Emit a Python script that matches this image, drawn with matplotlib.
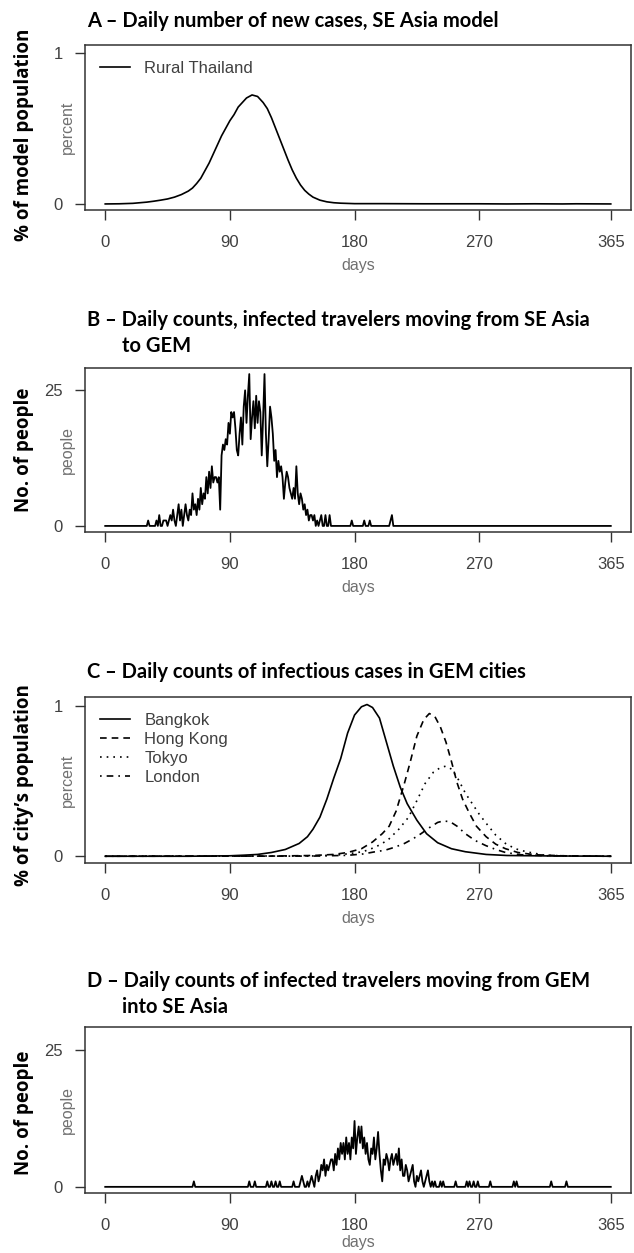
import numpy as np
import matplotlib
matplotlib.use("Agg")
import matplotlib.pyplot as plt

plt.rcParams['font.family'] = ['Liberation Sans', 'DejaVu Sans']

# ---- data ----
days_ticks = [0, 90, 180, 270, 365]

# A - rural Thailand, % of model population (smooth curve)
a_days = [0, 10, 20, 30, 35, 40, 45, 50, 55, 60, 63, 66, 69, 72, 75, 78, 81,
          84, 87, 90, 93, 96, 99, 102, 104, 106, 108, 110, 112, 114, 117, 120,
          123, 126, 129, 132, 135, 138, 141, 144, 147, 150, 155, 160, 165, 170,
          180, 200, 230, 270, 290, 310, 330, 340, 365]
a_vals = [0.0, 0.001, 0.004, 0.012, 0.018, 0.025, 0.033, 0.045, 0.062, 0.085,
          0.105, 0.135, 0.17, 0.22, 0.27, 0.33, 0.39, 0.45, 0.50, 0.55, 0.59,
          0.64, 0.67, 0.70, 0.71, 0.72, 0.715, 0.71, 0.69, 0.67, 0.63, 0.57,
          0.50, 0.43, 0.36, 0.29, 0.225, 0.17, 0.125, 0.09, 0.065, 0.045,
          0.025, 0.014, 0.008, 0.005, 0.002, 0.002, 0.001, 0.001, 0.0, 0.001,
          0.0, 0.001, 0.0]

# B - travelers SE Asia -> GEM, daily counts from day 30 to day 165
b_start = 30
b_counts = [0, 1, 0, 0, 0, 0, 0, 1, 0, 2, 0, 0, 1, 1, 1, 0, 1, 2, 1, 3,
            1, 0, 2, 4, 1, 3, 0, 2, 4, 2, 1, 3, 2, 6, 3, 4, 2, 5, 3, 7,
            4, 6, 5, 9, 6, 10, 7, 11, 8, 9, 9, 8, 9, 3, 13, 15, 14, 16, 15, 19,
            17, 21, 20, 21, 18, 14, 13, 17, 20, 15, 22, 25, 19, 24, 28, 16, 20, 23, 18, 24,
            19, 23, 21, 13, 20, 28, 17, 11, 16, 22, 20, 17, 12, 14, 9, 12, 10, 11, 9, 5,
            8, 10, 9, 7, 6, 5, 7, 5, 11, 6, 4, 6, 5, 3, 4, 2, 3, 1, 2, 2,
            1, 2, 0, 1, 0, 1, 2, 0, 0, 2, 0, 0, 2, 0, 0, 0]
b_spike_days = [178, 187, 191, 206, 207]
b_spike_counts = [1, 1, 1, 1, 2]

# C - infectious cases in GEM cities, % of city's population
bkk_days = [0, 60, 90, 100, 110, 120, 130, 140, 146, 150, 155, 160, 165, 170,
            175, 180, 185, 189, 193, 198, 203, 208, 213, 218, 225, 232, 240,
            250, 260, 275, 290, 320, 365]
bkk_vals = [0.0, 0.0, 0.003, 0.007, 0.012, 0.025, 0.045, 0.085, 0.13, 0.18,
            0.26, 0.38, 0.52, 0.65, 0.82, 0.94, 0.995, 1.01, 0.99, 0.92, 0.76,
            0.60, 0.46, 0.35, 0.24, 0.15, 0.09, 0.05, 0.03, 0.012, 0.005,
            0.002, 0.0]
hk_days = [0, 120, 150, 165, 175, 185, 193, 200, 205, 210, 216, 220, 225, 230,
           234, 238, 242, 246, 250, 254, 258, 263, 268, 275, 282, 289, 298,
           310, 330, 365]
hk_vals = [0.0, 0.001, 0.005, 0.012, 0.025, 0.05, 0.095, 0.15, 0.2, 0.3,
           0.485, 0.62, 0.80, 0.91, 0.95, 0.93, 0.86, 0.76, 0.63, 0.49, 0.38,
           0.285, 0.2, 0.13, 0.08, 0.05, 0.025, 0.01, 0.003, 0.0]
tyo_days = [0, 150, 170, 186, 195, 204, 212, 219, 225, 231, 237, 242, 246,
            250, 255, 260, 265, 270, 275, 282, 289, 296, 304, 318, 340, 365]
tyo_vals = [0.0, 0.002, 0.01, 0.03, 0.06, 0.107, 0.18, 0.26, 0.37, 0.485,
            0.56, 0.59, 0.60, 0.58, 0.51, 0.42, 0.35, 0.28, 0.22, 0.14, 0.085,
            0.05, 0.03, 0.006, 0.001, 0.0]
lon_days = [0, 150, 175, 186, 195, 202, 209, 216, 222, 228, 234, 240, 244,
            249, 254, 260, 267, 275, 282, 289, 300, 320, 365]
lon_vals = [0.0, 0.001, 0.006, 0.015, 0.03, 0.04, 0.06, 0.085, 0.115, 0.15,
            0.19, 0.225, 0.235, 0.23, 0.2, 0.15, 0.105, 0.07, 0.045, 0.025,
            0.01, 0.003, 0.0]
city_names = ['Bangkok', 'Hong Kong', 'Tokyo', 'London']

# D - travelers GEM -> SE Asia, daily counts from day 140 to day 240
d_start = 140
d_counts = [0, 1, 2, 1, 0, 0, 1, 0, 1, 2, 1, 0, 2, 3, 1, 2, 4, 3, 5, 2,
            4, 3, 4, 5, 5, 3, 6, 4, 7, 5, 8, 6, 8, 5, 9, 6, 8, 5, 9, 7,
            12, 6, 9, 11, 8, 11, 7, 9, 6, 8, 5, 4, 7, 6, 9, 5, 7, 10, 6, 3,
            1, 5, 4, 6, 5, 3, 5, 6, 4, 5, 6, 4, 7, 3, 5, 2, 2, 4, 3, 1,
            2, 3, 4, 1, 0, 2, 1, 2, 3, 1, 0, 1, 2, 3, 1, 0, 1, 0, 1, 0, 0]
d_spike_days = [64, 104, 108, 117, 120, 123, 126, 136, 242, 244, 253, 261,
                263, 266, 269, 278, 295, 297, 322, 333]
d_spike_counts = [1] * 20


def daily_series(start, counts, spike_days, spike_counts):
    s = np.zeros(366)
    s[start:start + len(counts)] = counts
    s[spike_days] = spike_counts
    return s


W, H = 634, 1253
fig = plt.figure(figsize=(W / 100, H / 100), dpi=100)

TICK_C = '#404040'
LAB_C = '#707070'
TITLE_FONT = ['Lato', 'Liberation Sans']
OUTER_FONT = ['Open Sans', 'DejaVu Sans']


def make_axes(top_px, bottom_px):
    left = 85 / W
    width = 546 / W
    return fig.add_axes([left, 1 - bottom_px / H, width, (bottom_px - top_px) / H])


def style_axes(ax, ytop_tick, ylim, inner_label, outer_label, outer_y, days_off=-40):
    ax.set_xlim(-14.6, 379.6)
    ax.set_ylim(*ylim)
    ax.set_xticks(days_ticks)
    ax.set_yticks([0, ytop_tick])
    ax.tick_params(axis='both', direction='out', length=7.5, width=1.0,
                   color='#333333', labelsize=12, labelcolor=TICK_C)
    ax.tick_params(axis='x', pad=10.5)
    ax.tick_params(axis='y', pad=8.5)
    for s in ax.spines.values():
        s.set_color('#333333')
        s.set_linewidth(1.1)
    ax.annotate('days', xy=(0.5, 0), xycoords='axes fraction',
                xytext=(0, days_off), textcoords='offset points',
                ha='center', va='center', fontsize=11.5, color=LAB_C)
    ax.text(-18 / 546, 0.5, inner_label, transform=ax.transAxes, rotation=90,
            ha='center', va='center', fontsize=11.5, color=LAB_C)
    fig.text(24 / W, 1 - outer_y / H, outer_label, rotation=90, ha='center',
             va='center', fontsize=13.5, fontweight='bold', family=OUTER_FONT)


def title(lines, baseline_px):
    for i, line in enumerate(lines):
        x = 87 if i == 0 else 122
        fig.text(x / W, 1 - (baseline_px + 26 * i) / H, line, ha='left',
                 va='baseline', fontsize=14.5, fontweight='bold',
                 family=TITLE_FONT)


def legend(ax):
    ax.legend(loc='upper left', bbox_to_anchor=(15 / 546, 0.905), frameon=False,
              borderaxespad=0, borderpad=0, handlelength=1.8, handletextpad=0.85,
              labelspacing=0.25, fontsize=12, labelcolor=TICK_C)


days = np.arange(366)

# Panel A
axA = make_axes(45, 210)
axA.plot(a_days, a_vals, color='black', lw=1.2, label='Rural Thailand')
style_axes(axA, 1, (-0.04, 1.05), 'percent', '% of model population', 135)
legend(axA)
title(['A – Daily number of new cases, SE Asia model'], 27)

# Panel B
axB = make_axes(368, 532)
axB.plot(days, daily_series(b_start, b_counts, b_spike_days, b_spike_counts),
         color='black', lw=1.3)
style_axes(axB, 25, (-1.12, 29.12), 'people', 'No. of people', 450)
title(['B – Daily counts, infected travelers moving from SE Asia', 'to GEM'], 326)

# Panel C
axC = make_axes(697, 863)
styles = ['-', (0, (4, 3)), (0, (1, 3)), (0, (1, 3, 4, 3))]
for dd, vv, ls, name in zip([bkk_days, hk_days, tyo_days, lon_days],
                            [bkk_vals, hk_vals, tyo_vals, lon_vals],
                            styles, city_names):
    axC.plot(dd, vv, color='black', lw=1.2, linestyle=ls, label=name)
style_axes(axC, 1, (-0.045, 1.06), 'percent', '% of city’s population', 785)
legend(axC)
title(['C – Daily counts of infectious cases in GEM cities'], 678)

# Panel D
axD = make_axes(1027, 1193)
axD.plot(days, daily_series(d_start, d_counts, d_spike_days, d_spike_counts),
         color='black', lw=1.3)
style_axes(axD, 25, (-1.12, 29.12), 'people', 'No. of people', 1113, days_off=-36)
title(['D – Daily counts of infected travelers moving from GEM', 'into SE Asia'], 987)

fig.savefig('out.png', dpi=100)
